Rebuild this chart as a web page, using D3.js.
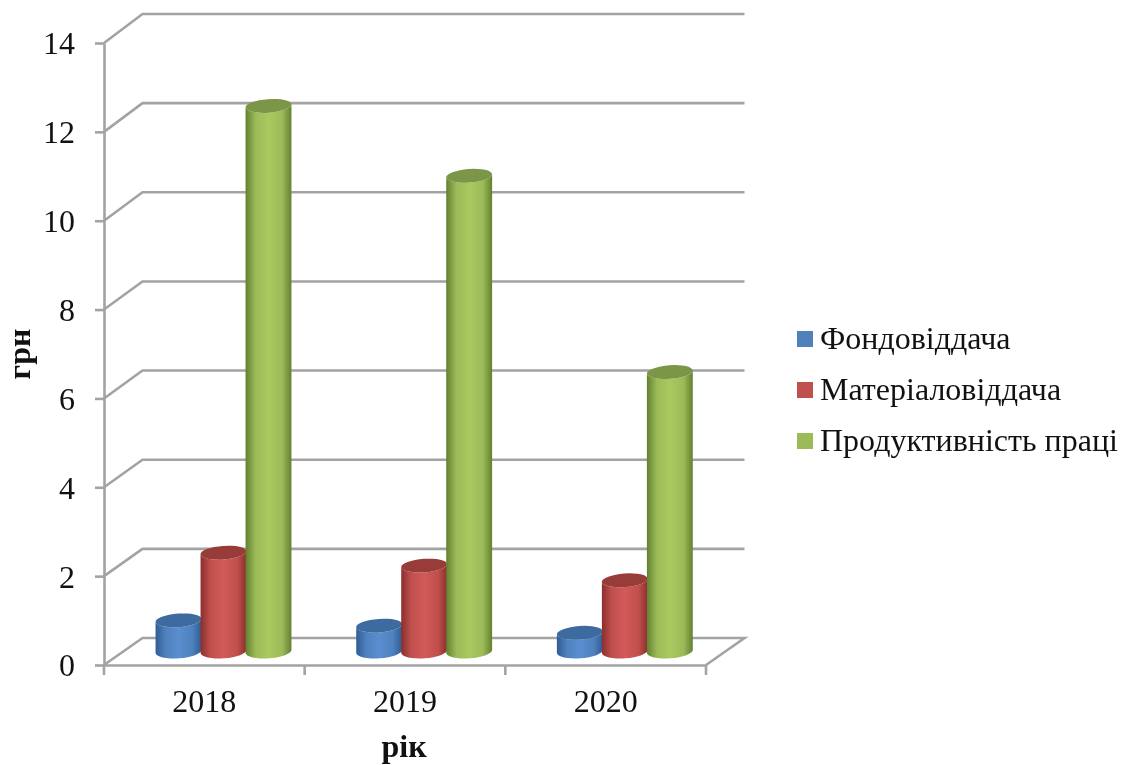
<!DOCTYPE html>
<html>
<head>
<meta charset="utf-8">
<script src="https://cdn.jsdelivr.net/npm/d3@7"></script>
<style>
    html, body { margin: 0; background: #fff; }
    svg { display: block; filter: blur(0.45px); }
    text { font-family: "Liberation Serif", serif; fill: #111; }
</style>
</head>
<body>
<svg id="chart" width="1128" height="765"></svg>
<script>
const categories = ["2018", "2019", "2020"];
const seriesNames = ["Фондовіддача", "Матеріаловіддача", "Продуктивність праці"];
const fondValues = [0.7, 0.58, 0.42];
const materialValues = [2.22, 1.93, 1.6];
const laborValues = [12.26, 10.69, 6.28];
const yTicks = [0, 2, 4, 6, 8, 10, 12, 14];
const seriesValues = [fondValues, materialValues, laborValues];

const palette = [
    { light: "#5a8ed0", dark: "#2f5c94", top: "#3d6a9f", flat: "#4f81bd" },
    { light: "#d25a58", dark: "#8a2f2d", top: "#983c3a", flat: "#c0504d" },
    { light: "#a8ca5e", dark: "#64802f", top: "#7a9646", flat: "#9bbb59" }
];

const svg = d3.select("#chart");
const defs = svg.append("defs");

// front plane of the 3d box and the back wall have slightly different scales
const depthX = 38.5;
const y = d3.scaleLinear().domain([0, 14]).range([665, 43]);
const yBack = d3.scaleLinear().domain([0, 14]).range([638, 14]);
const yMid = d3.scaleLinear().domain([0, 14]).range([651.5, 28.5]);
const x = d3.scaleBand().domain(categories).range([104, 706]);
const xSeries = d3.scaleBand()
    .domain(d3.range(seriesNames.length))
    .range([52, 187]);

palette.forEach((c, i) => {
    const grad = defs.append("linearGradient").attr("id", `cyl${i}`);
    [[0, c.dark], [0.22, c.flat], [0.5, c.light], [0.8, c.flat], [1, c.dark]].forEach(s => {
        grad.append("stop").attr("offset", s[0]).attr("stop-color", s[1]);
    });
});

const gridColor = "#a3a3a3";
const gridWidth = 2.6;

// back wall grid + side wall diagonals
const grid = svg.append("g")
    .attr("fill", "none")
    .attr("stroke", gridColor)
    .attr("stroke-width", gridWidth);

grid.selectAll("path")
    .data(yTicks)
    .join("path")
    .attr("d", d => {
        const x0 = x.range()[0];
        const x1 = x.range()[1];
        return `M${x0},${y(d)}L${x0 + depthX},${yBack(d)}H${x1 + depthX}` +
            (d === 0 ? `L${x1},${y(d)}` : "");
    });

// axes
const axisLeft = svg.append("g")
    .attr("transform", `translate(${x.range()[0]},0)`)
    .call(d3.axisLeft(y).tickValues(yTicks).tickSize(9).tickPadding(20).tickSizeOuter(0));

const axisBottom = svg.append("g")
    .attr("transform", `translate(0,${y(0)})`)
    .call(d3.axisBottom(x).tickSize(0).tickPadding(24).tickSizeOuter(0));

// band edge ticks
axisBottom.selectAll(".edge")
    .data([...categories.map(c => x(c)), x.range()[1]])
    .join("line")
    .attr("class", "edge")
    .attr("x1", d => d)
    .attr("x2", d => d)
    .attr("y1", 0)
    .attr("y2", 10);

[axisLeft, axisBottom].forEach(a => {
    a.selectAll("path.domain, line")
        .attr("stroke", gridColor)
        .attr("stroke-width", gridWidth);
    a.selectAll("text")
        .attr("font-size", 32)
        .attr("font-family", "Liberation Serif")
        .attr("fill", "#111");
});

axisLeft.selectAll("text").attr("dy", "0.34em");

// cylinders
const rx = 23;
const ry = 6.8;
const tilt = -4;
const tiltRad = tilt * Math.PI / 180;

function cylinder(cx, value) {
    const base = yMid(0);
    const top = yMid(value);
    const ex = rx * Math.cos(tiltRad);
    const ey = rx * Math.sin(tiltRad);
    return {
        body: `M${cx - ex},${top - ey}L${cx - ex},${base - ey}` +
            `A${rx},${ry} ${tilt} 0 0 ${cx + ex},${base + ey}` +
            `L${cx + ex},${top + ey}` +
            `A${rx},${ry} ${tilt} 0 1 ${cx - ex},${top - ey}Z`,
        top: top
    };
}

const bars = svg.append("g");

categories.forEach((cat, ci) => {
    seriesValues.forEach((values, si) => {
        const cx = x(cat) + xSeries(si) + xSeries.bandwidth() / 2;
        const shape = cylinder(cx, values[ci]);

        bars.append("path")
            .attr("d", shape.body)
            .attr("fill", `url(#cyl${si})`);

        bars.append("ellipse")
            .attr("cx", cx)
            .attr("cy", shape.top)
            .attr("rx", rx)
            .attr("ry", ry)
            .attr("transform", `rotate(${tilt},${cx},${shape.top})`)
            .attr("fill", palette[si].top);
    });
});

// axis titles
svg.append("text")
    .attr("transform", "translate(30,354) rotate(-90)")
    .attr("text-anchor", "middle")
    .attr("font-size", 32)
    .attr("font-weight", "bold")
    .text("грн");

svg.append("text")
    .attr("x", 404)
    .attr("y", 757)
    .attr("text-anchor", "middle")
    .attr("font-size", 32)
    .attr("font-weight", "bold")
    .text("рік");

// legend
const legendY = d3.scalePoint().domain(seriesNames).range([349, 451]);

const legend = svg.append("g")
    .selectAll("g")
    .data(seriesNames)
    .join("g")
    .attr("transform", d => `translate(797,${legendY(d)})`);

legend.append("rect")
    .attr("y", -18)
    .attr("width", 16)
    .attr("height", 16)
    .attr("fill", (d, i) => palette[i].flat);

legend.append("text")
    .attr("x", 23)
    .attr("font-size", 32)
    .text(d => d);
</script>
</body>
</html>
